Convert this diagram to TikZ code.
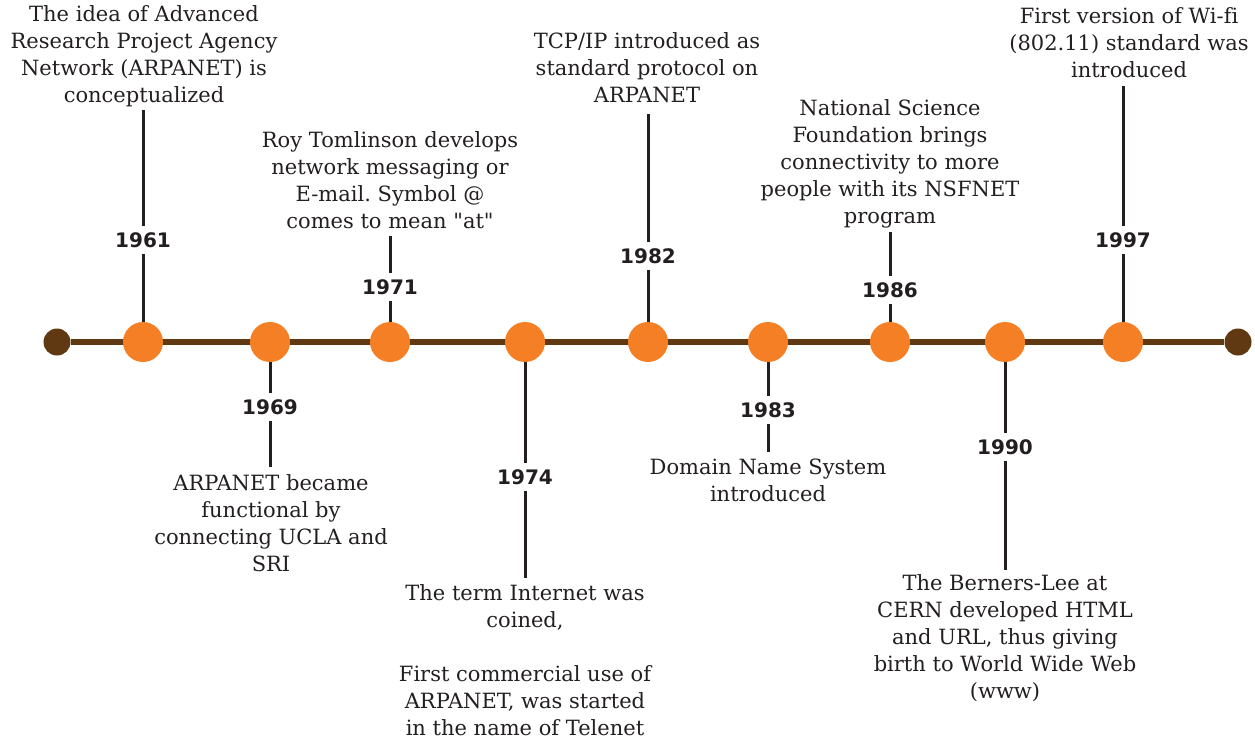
\documentclass[tikz,border=0pt]{standalone}
\usepackage{fontspec}
\setmainfont{DejaVu Serif}[Ligatures={NoCommon,TeXOff}]
\newfontfamily\yearfont{DejaVu Sans}
\definecolor{ink}{HTML}{231F20}
\definecolor{orangeC}{HTML}{F47F24}
\definecolor{brownC}{HTML}{603913}
\pgfdeclarelayer{background}
\pgfsetlayers{background,main}
\begin{document}
\frenchspacing
\begin{tikzpicture}[x=1pt,y=-1pt,
  desc/.style={align=center, inner sep=0pt, text=ink, font=\fontsize{21}{27}\selectfont},
  yearlbl/.style={fill=white, text=ink, font=\yearfont\bfseries\fontsize{20}{24}\selectfont, inner xsep=3pt, inner ysep=7pt, text height=14.5pt, text depth=0pt},
  stem/.style={draw=ink, line width=3pt},
  timeline/.style={draw=brownC, line width=6pt},
  evt/.style={circle, fill=orangeC, minimum size=40pt, inner sep=0pt},
  endpt/.style={circle, fill=brownC, minimum size=27pt, inner sep=0pt},
]
\useasboundingbox (0,0) rectangle (1255,740);

% end points and events
\node[endpt] (L) at (57,342) {};
\node[endpt] (R) at (1238,342) {};
\node[evt] (c1961) at (143,342) {};
\node[evt] (c1969) at (270,342) {};
\node[evt] (c1971) at (390,342) {};
\node[evt] (c1974) at (525,342) {};
\node[evt] (c1982) at (648,342) {};
\node[evt] (c1983) at (768,342) {};
\node[evt] (c1986) at (890,342) {};
\node[evt] (c1990) at (1005,342) {};
\node[evt] (c1997) at (1123,342) {};

\begin{pgfonlayer}{background}
\draw[timeline] (L) -- (R);
\end{pgfonlayer}

% descriptions
\node[desc, anchor=north] (t1961) at (144,5) {The idea of Advanced\\Research Project Agency\\Network (ARPANET) is\\conceptualized};
\node[desc, anchor=north] (t1971) at (390,131) {Roy Tomlinson develops\\network messaging or\\E-mail. Symbol @\\comes to mean "at"};
\node[desc, anchor=north] (t1982) at (647,32) {TCP/IP introduced as\\standard protocol on\\ARPANET};
\node[desc, anchor=north] (t1986) at (890,99) {National Science\\Foundation brings\\connectivity to more\\people with its NSFNET\\program};
\node[desc, anchor=north] (t1997) at (1129,7) {First version of Wi-fi\\(802.11) standard was\\introduced};
\node[desc, anchor=north] (t1969) at (271,474) {ARPANET became\\functional by\\connecting UCLA and\\SRI};
\node[desc, anchor=north] (t1974) at (525,584) {The term Internet was\\coined,\\[27pt]First commercial use of\\ARPANET, was started\\in the name of Telenet};
\node[desc, anchor=north] (t1983) at (768,459) {Domain Name System\\introduced};
\node[desc, anchor=north] (t1990) at (1005,574) {The Berners-Lee at\\CERN developed HTML\\and URL, thus giving\\birth to World Wide Web\\(www)};

% stem ends
\coordinate (e1961) at (143,110);
\coordinate (e1971) at (390,236);
\coordinate (e1982) at (648,114);
\coordinate (e1986) at (890,232);
\coordinate (e1997) at (1123,86);
\coordinate (e1969) at (270,467);
\coordinate (e1974) at (525,578);
\coordinate (e1983) at (768,452);
\coordinate (e1990) at (1005,570);

\draw[stem] (c1961.north) -- (e1961);
\draw[stem] (c1971.north) -- (e1971);
\draw[stem] (c1982.north) -- (e1982);
\draw[stem] (c1986.north) -- (e1986);
\draw[stem] (c1997.north) -- (e1997);
\draw[stem] (c1969.south) -- (e1969);
\draw[stem] (c1974.south) -- (e1974);
\draw[stem] (c1983.south) -- (e1983);
\draw[stem] (c1990.south) -- (e1990);

% year labels
\node[yearlbl] (y1961) at (143,240) {1961};
\node[yearlbl] (y1969) at (270,407) {1969};
\node[yearlbl] (y1971) at (390,287) {1971};
\node[yearlbl] (y1974) at (525,477) {1974};
\node[yearlbl] (y1982) at (648,256) {1982};
\node[yearlbl] (y1983) at (768,410) {1983};
\node[yearlbl] (y1986) at (890,290) {1986};
\node[yearlbl] (y1990) at (1005,447) {1990};
\node[yearlbl] (y1997) at (1123,240) {1997};
\end{tikzpicture}
\end{document}
